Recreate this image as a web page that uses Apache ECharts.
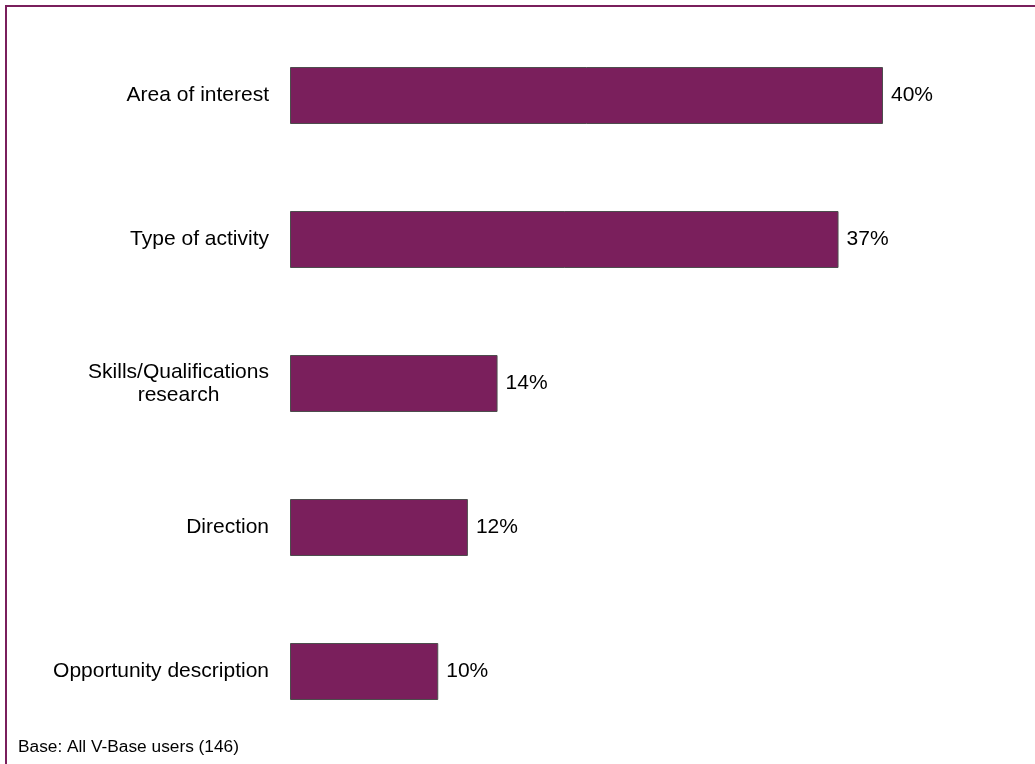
<!DOCTYPE html>
<html>
<head>
<meta charset="utf-8">
<script src="https://cdn.jsdelivr.net/npm/echarts@6/dist/echarts.min.js"></script>
<style>
html,body{margin:0;padding:0;background:#fff;}
#c{width:1035px;height:764px;}
</style>
</head>
<body>
<div id="c"></div>
<script>
const categories = ['Area of interest', 'Type of activity', 'Skills/Qualifications\nresearch', 'Direction', 'Opportunity description'];
const values = [40, 37, 14, 12, 10];
const footnote = 'Base: All V-Base users (146)';

const FONT = '"Liberation Sans", Arial, sans-serif';
const FS = 21;
const chart = echarts.init(document.getElementById('c'));
chart.setOption({
  animation: false,
  backgroundColor: '#ffffff',
  grid: { left: 290, width: 593, top: 23.5, height: 720, containLabel: false },
  xAxis: { type: 'value', min: 0, max: 40, show: false },
  yAxis: {
    type: 'category', inverse: true, data: categories,
    axisLine: { show: false }, axisTick: { show: false }, splitLine: { show: false },
    axisLabel: {
      margin: 21, color: '#000', fontSize: FS, fontFamily: FONT, lineHeight: 23,
      formatter: function (v) {
        if (v.indexOf('\n') >= 0) {
          return v.split('\n').map(function (s) { return '{m|' + s + '}'; }).join('\n');
        }
        return v;
      },
      rich: { m: { width: 181, align: 'center', fontSize: FS, fontFamily: FONT, color: '#000', lineHeight: 23 } }
    }
  },
  series: [{
    type: 'bar', data: values, barWidth: 57,
    itemStyle: { color: '#7a1f5c', borderColor: '#4d4d4d', borderWidth: 1 },
    label: { show: true, position: 'right', distance: 8, formatter: '{c}%', color: '#000', fontSize: FS, fontFamily: FONT }
  }],
  graphic: [
    { type: 'rect', shape: { x: 6, y: 6, width: 1100, height: 900 }, style: { fill: null, stroke: '#7a1f5c', lineWidth: 2 }, silent: true, z: 100 },
    { type: 'text', left: 18, top: 739, style: { text: footnote, fontSize: 17.3, fontFamily: FONT, fill: '#000' } }
  ]
});
</script>
</body>
</html>
